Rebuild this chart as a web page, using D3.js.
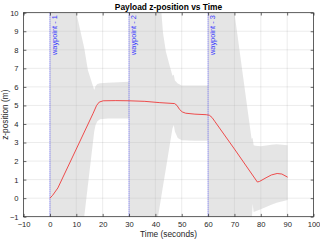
<!DOCTYPE html>
<html><head><meta charset="utf-8">
<script src="https://cdn.jsdelivr.net/npm/d3@7/dist/d3.min.js"></script>
<style>body{margin:0;background:#fff}svg{display:block;font-family:"Liberation Sans",Arial,Helvetica,sans-serif}</style>
</head><body><svg id="c" width="320" height="240"></svg>
<script>
// ---- data ----
const xTicks = d3.range(-10, 101, 10);
const yTicks = d3.range(-1, 11, 1);
const waypointTimes = [0, 30, 60];
const waypointLabels = ["waypoint - 1", "waypoint - 2", "waypoint - 3"];

const posTime = [0, 1, 3, 10, 16.4, 17.7, 18.7, 20.2, 25, 30, 36, 41.7, 47.3, 48.2, 49.2, 50.2, 51.5, 55, 59.3, 60.5, 61.5, 62.5, 70, 78.7, 79.5, 82, 84, 86.2, 88, 90.2];
const posZ    = [0, 0.15, 0.55, 2.65, 4.58, 5.0, 5.18, 5.25, 5.26, 5.25, 5.22, 5.15, 5.1, 5.0, 4.78, 4.65, 4.58, 4.53, 4.5, 4.47, 4.35, 4.15, 2.65, 0.87, 0.9, 1.1, 1.25, 1.33, 1.3, 1.13];

const bandTime  = [0, 10, 12.6, 13, 14.4, 16.8, 17.3, 18, 19, 22, 30,
                   30, 41, 42.3, 42.9, 44, 45.5, 46.5, 47.0, 47.4, 48.5, 50, 55, 60,
                   60, 70, 75, 76.5, 76.9, 77.3, 78, 80, 84, 86, 90.2];
const bandUpper = [16, 10, 8.35, 8.1, 6.9, 5.83, 6.05, 6.15, 6.2, 6.22, 6.28,
                   16, 11, 10, 8.9, 7.9, 7.1, 6.6, 6.65, 6.35, 6.18, 6.08, 6.07, 6.07,
                   16, 10, 4.75, 3.2, 3.25, 2.85, 2.82, 2.8, 2.88, 2.9, 2.85];
const bandLower = [-12, -4.6, -1.5, -1.0, 0.7, 3.6, 3.95, 4.15, 4.25, 4.3, 4.3,
                   -12, -1.0, 0.13, 0.65, 1.6, 2.9, 3.77, 3.95, 3.6, 3.25, 3.12, 3.1, 3.1,
                   -12, -4, -1.6, -1.5, -0.3, -0.75, -0.7, -0.6, -0.35, -0.25, -0.1];

// ---- layout ----
const svg = d3.select("#c");
const L = 23.6, R = 313.5, T = 12.7, B = 216.7;
const x = d3.scaleLinear().domain([-10, 100]).range([L, R]);
const y = d3.scaleLinear().domain([-1, 10]).range([B, T]);
const ink = "#262626";

svg.append("defs").append("clipPath").attr("id", "clip")
  .append("rect").attr("x", L).attr("y", T).attr("width", R - L).attr("height", B - T);

// grid
const grid = svg.append("g").attr("stroke", ink).attr("stroke-opacity", 0.15).attr("stroke-width", 0.6);
grid.selectAll(".gx").data(xTicks).join("line")
  .attr("x1", d => x(d)).attr("x2", d => x(d)).attr("y1", T).attr("y2", B);
grid.selectAll(".gy").data(yTicks).join("line")
  .attr("y1", d => y(d)).attr("y2", d => y(d)).attr("x1", L).attr("x2", R);

const plot = svg.append("g").attr("clip-path", "url(#clip)");

// band
const bandData = bandTime.map((t, i) => ({t, u: bandUpper[i], l: bandLower[i]}));
plot.append("path").datum(bandData)
  .attr("d", d3.area().x(d => x(d.t)).y0(d => y(d.l)).y1(d => y(d.u)))
  .attr("fill", "#bfbfbf").attr("fill-opacity", 0.4);

// waypoint lines
plot.selectAll(".wp").data(waypointTimes).join("line")
  .attr("x1", d => x(d)).attr("x2", d => x(d)).attr("y1", T).attr("y2", B)
  .attr("stroke", "#4d4dff").attr("stroke-width", 0.8).attr("stroke-dasharray", "1,1");

svg.selectAll(".wpl").data(waypointTimes).join("text")
  .attr("transform", d => `translate(${x(d) + 7.2},${T + 2.5}) rotate(-90)`)
  .attr("text-anchor", "end").attr("fill", "#3a3aff").attr("font-size", 7.4)
  .text((d, i) => waypointLabels[i]);

// position line
const posData = posTime.map((t, i) => ({t, z: posZ[i]}));
plot.append("path").datum(posData)
  .attr("d", d3.line().x(d => x(d.t)).y(d => y(d.z)))
  .attr("fill", "none").attr("stroke", "#ee3a3a").attr("stroke-width", 0.9);

// axes box
svg.append("rect").attr("x", L).attr("y", T).attr("width", R - L).attr("height", B - T)
  .attr("fill", "none").attr("stroke", ink).attr("stroke-width", 0.7);

const tk = 2.8;
const axB = d3.axisBottom(x).tickValues(xTicks).tickSizeInner(-tk).tickSizeOuter(0).tickPadding(5);
const axT = d3.axisTop(x).tickValues(xTicks).tickSizeInner(-tk).tickSizeOuter(0).tickFormat("");
const axLft = d3.axisLeft(y).tickValues(yTicks).tickSizeInner(-tk).tickSizeOuter(0).tickPadding(5);
const axRt = d3.axisRight(y).tickValues(yTicks).tickSizeInner(-tk).tickSizeOuter(0).tickFormat("");

function style(g) {
  g.select(".domain").remove();
  g.selectAll("line").attr("stroke", ink).attr("stroke-width", 0.7);
  g.selectAll("text").attr("fill", ink).attr("font-size", 7.6).attr("font-family", "Liberation Sans, Arial, sans-serif");
}
svg.append("g").attr("transform", `translate(0,${B})`).call(axB).call(style);
svg.append("g").attr("transform", `translate(0,${T})`).call(axT).call(style);
svg.append("g").attr("transform", `translate(${L},0)`).call(axLft).call(style);
svg.append("g").attr("transform", `translate(${R},0)`).call(axRt).call(style);

// title & labels
svg.append("text").attr("x", (L + R) / 2).attr("y", 9.6).attr("text-anchor", "middle")
  .attr("font-weight", "bold").attr("font-size", 8.4).attr("fill", "#000").text("Payload z-position vs Time");
svg.append("text").attr("x", (L + R) / 2).attr("y", 237).attr("text-anchor", "middle")
  .attr("font-size", 8.3).attr("fill", ink).text("Time (seconds)");
svg.append("text").attr("transform", `translate(8.3,${(T + B) / 2}) rotate(-90)`).attr("text-anchor", "middle")
  .attr("font-size", 8.3).attr("fill", ink).text("z-position (m)");
</script></body></html>
